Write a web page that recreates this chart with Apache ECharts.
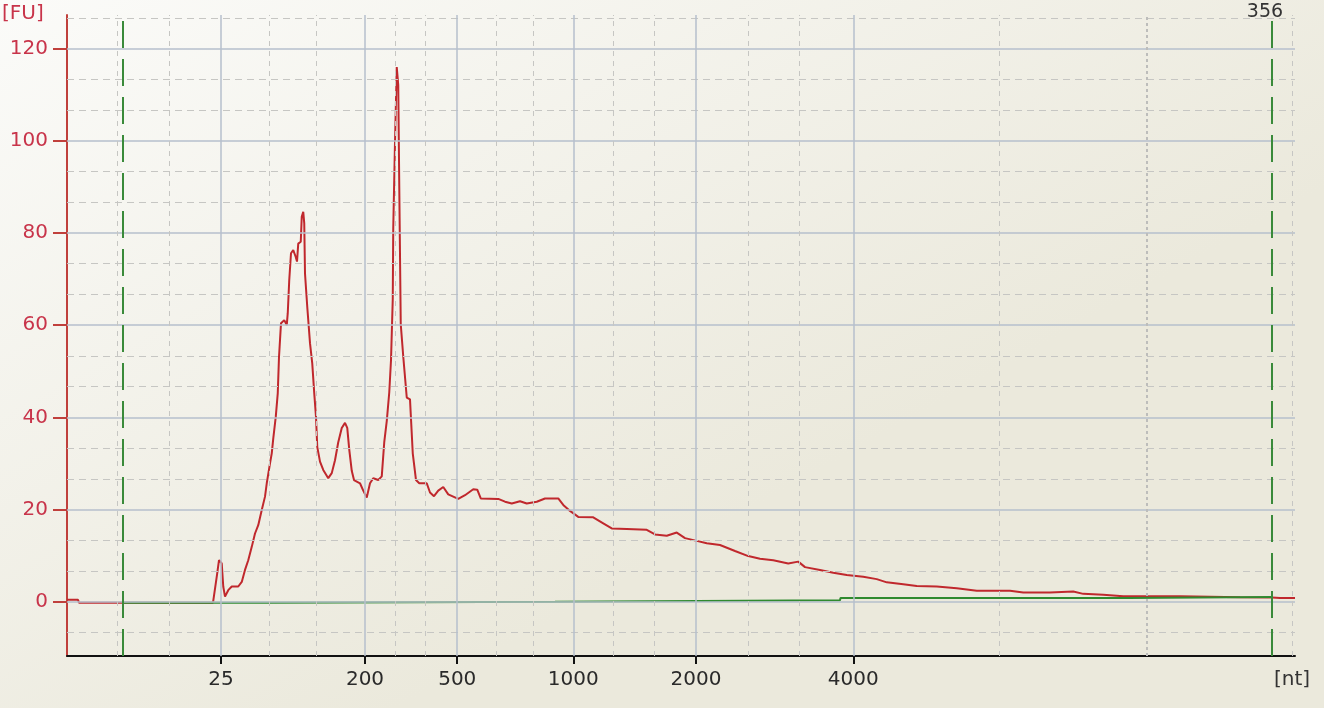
<!DOCTYPE html>
<html><head><meta charset="utf-8">
<script src="https://cdn.jsdelivr.net/npm/echarts@6/dist/echarts.min.js"></script>
<style>html,body{margin:0;padding:0;background:#f4f3ec}#c{width:1324px;height:708px}</style>
</head><body><div id="c"></div>
<script>
// x axis: migration time (s); ladder sizes label the solid grid lines
const sizeLabels = ['25', '200', '500', '1000', '2000', '4000'];
const sizeTimes = [24.16, 29.92, 33.61, 38.25, 43.16, 49.45];
const minorTimes = [20.00, 22.08, 26.08, 27.96, 31.12, 32.32, 35.16, 36.64, 39.84, 41.48, 45.24, 47.28, 55.28, 67.00];
const dottedTimes = [61.19];
const yMajor = [0, 20, 40, 60, 80, 100, 120];
const yMinor = [-6.67, 6.67, 13.33, 26.67, 33.33, 46.67, 53.33, 66.67, 73.33, 86.67, 93.33, 106.67, 113.33, 126.67];
const markerTimes = [20.24, 66.20];
const markerText = '356';

// sample trace [time (s), FU]
const sampleTrace = [
[18.00,0.4],[18.44,0.4],[18.48,-0.2],[23.84,-0.2],[23.92,0.2],[24.00,5.8],[24.08,9.0],[24.19,8.3],[24.25,3.3],[24.32,1.1],
[24.45,2.5],[24.59,3.3],[24.85,3.3],[24.99,4.3],[25.12,6.9],[25.25,9.0],[25.39,11.9],[25.52,14.8],[25.65,16.6],[25.79,19.9],
[25.92,22.8],[25.99,25.7],[26.12,30.0],[26.19,32.2],[26.25,35.4],[26.35,40.1],[26.43,45.2],[26.48,53.1],[26.56,60.4],[26.69,61.1],
[26.79,60.0],[26.83,62.6],[26.89,69.8],[26.96,75.6],[27.05,76.3],[27.15,74.8],[27.20,73.8],[27.25,77.7],[27.35,78.1],[27.39,83.5],
[27.45,84.6],[27.49,82.1],[27.52,71.2],[27.61,64.0],[27.72,56.1],[27.81,51.7],[27.89,45.2],[27.96,40.1],[28.01,33.6],[28.12,30.4],
[28.25,28.6],[28.45,26.8],[28.59,27.9],[28.72,30.7],[28.85,34.6],[28.99,37.7],[29.12,38.8],[29.21,37.7],[29.29,33.0],[29.39,28.4],
[29.48,26.4],[29.72,25.7],[29.85,24.1],[29.99,22.6],[30.12,25.7],[30.25,26.8],[30.45,26.4],[30.59,27.2],[30.69,34.6],[30.79,39.2],
[30.89,45.4],[30.96,52.4],[31.03,65.6],[31.05,81.1],[31.12,99.7],[31.19,116.0],[31.25,112.1],[31.29,90.4],[31.35,60.2],[31.45,53.2],
[31.59,44.3],[31.72,43.9],[31.83,32.2],[31.96,26.4],[32.09,25.7],[32.39,25.7],[32.52,23.7],[32.68,22.9],[32.85,24.1],[33.05,24.9],
[33.25,23.3],[33.32,22.9],[33.65,22.3],[33.92,23.1],[34.25,24.4],[34.41,24.3],[34.55,22.4],[35.25,22.3],[35.52,21.7],[35.79,21.3],
[36.12,21.8],[36.39,21.3],[36.79,21.7],[37.12,22.4],[37.65,22.4],[37.85,21.0],[38.12,19.7],[38.45,18.4],[39.05,18.3],[39.45,17.0],
[39.79,15.9],[40.39,15.8],[41.19,15.6],[41.52,14.6],[41.99,14.3],[42.39,15.0],[42.72,13.8],[43.19,13.2],[43.59,12.7],[44.12,12.3],
[44.72,11.0],[45.25,9.9],[45.72,9.3],[46.25,9.0],[46.85,8.3],[47.25,8.7],[47.52,7.5],[48.12,6.9],[48.65,6.3],[49.19,5.8],
[49.85,5.4],[50.39,4.9],[50.79,4.2],[51.45,3.8],[51.99,3.4],[52.79,3.3],[53.59,2.9],[54.39,2.4],[55.72,2.4],[56.25,2.0],
[57.32,2.0],[58.25,2.2],[58.65,1.7],[59.45,1.5],[60.25,1.2],[62.52,1.2],[64.92,0.95],[66.20,0.9],[66.52,0.8],[67.12,0.8]
];
// baseline [time (s), FU]
const baselineTrace = [
[20.24,-0.2],[25.94,-0.2],[25.96,0.0],[37.52,0.0],[37.54,0.3],[48.92,0.3],[48.94,0.8],[60.44,0.8],[60.46,1.0],[66.20,1.0]
];

const FONT = 'DejaVu Sans';
const majorStyle = {color: '#b6bfcc', width: 1.5, type: 'solid'};
const minorH = {color: '#c6c6c3', width: 1, type: [7, 5]};
const minorV = {color: '#c6c6c3', width: 1, type: [5, 5]};
const dottedV = {color: '#bdbdbb', width: 2, type: [3, 3]};

const gridLines = [];
yMajor.forEach(v => gridLines.push({yAxis: v, lineStyle: majorStyle}));
yMinor.forEach(v => gridLines.push({yAxis: v, lineStyle: minorH}));
sizeTimes.forEach(t => gridLines.push({xAxis: t, lineStyle: majorStyle}));
minorTimes.forEach(t => gridLines.push({xAxis: t, lineStyle: minorV}));
dottedTimes.forEach(t => gridLines.push({xAxis: t, lineStyle: dottedV}));

const chart = echarts.init(document.getElementById('c'), null, {renderer: 'canvas'});
chart.setOption({
  animation: false,
  backgroundColor: {type: 'linear', x: 0, y: 0, x2: 0.3, y2: 1,
    colorStops: [{offset: 0, color: '#fbfbf9'}, {offset: 1, color: '#ebe9dc'}]},
  grid: {left: 67, right: 29, top: 15, bottom: 52, containLabel: false},
  xAxis: {
    type: 'value', min: 18, max: 67.12,
    splitLine: {show: false},
    axisLine: {onZero: false, lineStyle: {color: '#111', width: 2}},
    axisTick: {show: true, customValues: sizeTimes, length: 8, lineStyle: {color: '#111', width: 2}},
    axisLabel: {
      customValues: sizeTimes, margin: 14, color: '#2a2a2a', fontFamily: FONT, fontSize: 20,
      formatter: v => { const i = sizeTimes.findIndex(t => Math.abs(t - v) < 1e-6); return i >= 0 ? sizeLabels[i] : ''; }
    }
  },
  yAxis: {
    type: 'value', min: -11.78, max: 127.3,
    splitLine: {show: false},
    axisLine: {show: true, onZero: false, lineStyle: {color: '#c0403c', width: 2}},
    axisTick: {show: true, customValues: yMajor, length: 14, lineStyle: {color: '#c0403c', width: 2}},
    axisLabel: {customValues: yMajor, margin: 19, color: '#c8344a', fontFamily: FONT, fontSize: 20}
  },
  graphic: [
    {type: 'text', left: 2, top: 4, style: {text: '[FU]', fill: '#c8344a', font: '20px "DejaVu Sans"'}},
    {type: 'text', left: 1274, top: 670, style: {text: '[nt]', fill: '#333', font: '20px "DejaVu Sans"'}}
  ],
  series: [
    {
      type: 'line', data: [], silent: true, z: 1,
      markLine: {silent: true, symbol: 'none', label: {show: false}, animation: false, data: gridLines}
    },
    {
      name: 'sample', type: 'line', data: sampleTrace, showSymbol: false, silent: true, z: 3,
      lineStyle: {color: '#c0282d', width: 2}
    },
    {
      name: 'baseline', type: 'line', data: baselineTrace, showSymbol: false, silent: true, z: 4,
      lineStyle: {color: '#2f8a2f', width: 2},
      markLine: {
        silent: true, symbol: 'none', animation: false,
        lineStyle: {color: '#3a8a3a', width: 2, type: [27, 11]},
        label: {show: false},
        data: markerTimes.map((t, i) => ({
          xAxis: t,
          label: i === markerTimes.length - 1
            ? {show: true, position: 'end', formatter: markerText, color: '#333', fontFamily: FONT, fontSize: 19, distance: 2, offset: [-7, 9]}
            : {show: false}
        }))
      }
    }
  ]
});
</script></body></html>
